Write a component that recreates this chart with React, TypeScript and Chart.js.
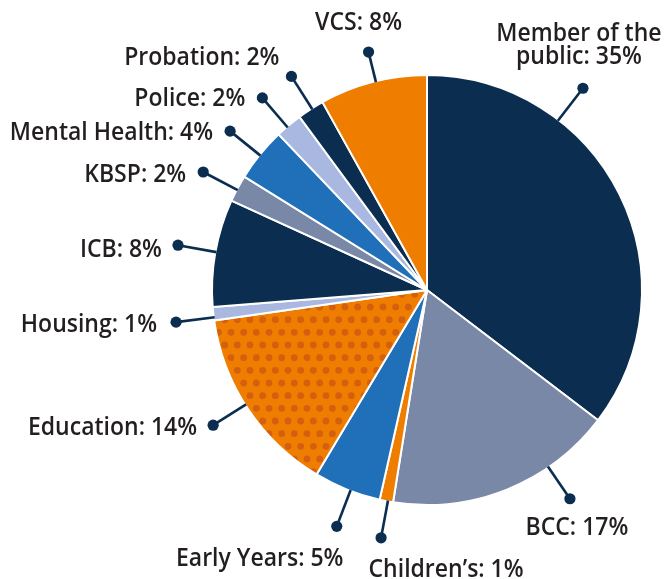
import { useEffect, useRef } from "react";
import { Chart, registerables } from "chart.js";

Chart.register(...registerables);

// ---- data ----
const categories = [
  "Member of the public",
  "BCC",
  "Children’s",
  "Early Years",
  "Education",
  "Housing",
  "ICB",
  "KBSP",
  "Mental Health",
  "Police",
  "Probation",
  "VCS",
];
const shares = [35, 17, 1, 5, 14, 1, 8, 2, 4, 2, 2, 8];

// ---- styles ----
const NAVY = "#0b2d4f";
const SLATE = "#7a88a7";
const BLUE = "#1f70b8";
const LIGHT = "#a8b8e0";
const ORANGE = "#ef7d00";
const DOT = "#d3600f";
const TEXT = "#231f20";

const sliceColors = [NAVY, SLATE, ORANGE, BLUE, "PATTERN", LIGHT, NAVY, SLATE, BLUE, LIGHT, NAVY, ORANGE];

// label layout: leader angle (deg clockwise from top), leader length, text offset from dot, alignment
const labelLayout = [
  { angle: 37.7, len: 40, dx: -4, dy: -47, align: "center", breakAfter: 3 },
  { angle: 145.6, len: 38, dx: 7, dy: 36, align: "center" },
  { angle: 190.5, len: 37, dx: 65, dy: 39, align: "center" },
  { angle: 200.9, len: 38, dx: -77, dy: 40, align: "center" },
  { angle: 237.7, len: 38, dx: -16, dy: 10, align: "right" },
  { angle: 262.7, len: 38, dx: -19, dy: 10, align: "right" },
  { angle: 280.2, len: 38, dx: -16, dy: 12, align: "right" },
  { angle: 297.8, len: 38, dx: -17, dy: 10, align: "right" },
  { angle: 308.9, len: 38, dx: -17, dy: 9, align: "right" },
  { angle: 319.4, len: 38, dx: -17, dy: 8, align: "right" },
  { angle: 327.6, len: 38, dx: -12, dy: -11, align: "right" },
  { angle: 346.2, len: 30, dx: -10, dy: -22, align: "center" },
];

function makePattern(): CanvasPattern | string {
  const c = document.createElement("canvas");
  c.width = 38;
  c.height = 76;
  const g = c.getContext("2d");
  if (!g) return ORANGE;
  g.fillStyle = ORANGE;
  g.fillRect(0, 0, 38, 76);
  g.fillStyle = DOT;
  const s = 38 / 3;
  for (let row = -1; row <= 7; row++) {
    for (let col = -1; col <= 3; col++) {
      const x = col * s + (Math.abs(row) % 2 === 1 ? s / 2 : 0) + 3;
      const y = row * s + 3;
      g.beginPath();
      g.arc(x, y, 3.4, 0, Math.PI * 2);
      g.fill();
    }
  }
  const p = g.createPattern(c, "repeat");
  return p || ORANGE;
}

const labelPlugin = {
  id: "leaderLabels",
  afterDraw(chart: any) {
    const meta = chart.getDatasetMeta(0);
    const arc = meta.data[0];
    if (!arc) return;
    const cx = arc.x;
    const cy = arc.y;
    const r = arc.outerRadius;
    const ctx = chart.ctx as CanvasRenderingContext2D;
    ctx.save();
    labelLayout.forEach((lay, i) => {
      const a = (lay.angle * Math.PI) / 180;
      const sx = Math.sin(a);
      const sy = -Math.cos(a);
      const x0 = cx + sx * (r - 1);
      const y0 = cy + sy * (r - 1);
      const dist = r + lay.len;
      const x1 = cx + sx * dist;
      const y1 = cy + sy * dist;
      ctx.strokeStyle = NAVY;
      ctx.lineWidth = 2.6;
      ctx.beginPath();
      ctx.moveTo(x0, y0);
      ctx.lineTo(x1, y1);
      ctx.stroke();
      ctx.fillStyle = NAVY;
      ctx.beginPath();
      ctx.arc(x1, y1, 5.6, 0, Math.PI * 2);
      ctx.fill();

      const full = `${categories[i]}: ${shares[i]}%`;
      let lines = [full];
      if ((lay as any).breakAfter) {
        const words = full.split(" ");
        const n = (lay as any).breakAfter;
        lines = [words.slice(0, n).join(" "), words.slice(n).join(" ")];
      }
      ctx.fillStyle = TEXT;
      ctx.font = "600 26px 'Open Sans'";
      ctx.textAlign = lay.align as CanvasTextAlign;
      ctx.textBaseline = "alphabetic";
      lines.forEach((ln, k) => {
        ctx.save();
        ctx.translate(x1 + lay.dx, y1 + lay.dy + k * 23);
        ctx.scale(0.885, 1);
        ctx.fillText(ln, 0, 0);
        ctx.restore();
      });
    });
    ctx.restore();
  },
};

export default function App() {
  const ref = useRef<HTMLCanvasElement | null>(null);
  useEffect(() => {
    document.body.style.margin = "0";
    const canvas = ref.current;
    if (!canvas) return;
    const pattern = makePattern();
    const colors = sliceColors.map((c) => (c === "PATTERN" ? pattern : c));
    const chart = new Chart(canvas, {
      type: "pie",
      data: {
        labels: categories,
        datasets: [
          {
            data: shares,
            backgroundColor: colors as any,
            borderColor: "#ffffff",
            borderWidth: 2,
            radius: 215,
          } as any,
        ],
      },
      options: {
        animation: false,
        responsive: false,
        maintainAspectRatio: false,
        layout: { padding: { left: 189, right: 0, top: 1, bottom: 0 } },
        plugins: {
          legend: { display: false },
          tooltip: { enabled: false },
        },
      },
      plugins: [labelPlugin],
    });
    return () => chart.destroy();
  }, []);
  return (
    <div style={{ width: 665, height: 579, background: "#ffffff" }}>
      <canvas ref={ref} width={665} height={579} style={{ display: "block" }} />
    </div>
  );
}
